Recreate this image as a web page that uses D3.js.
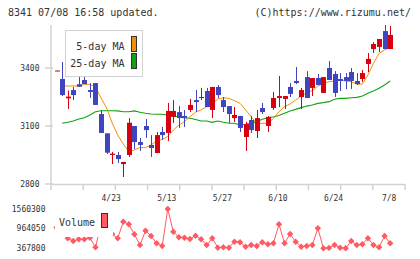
<!DOCTYPE html>
<html>
<head>
<meta charset="utf-8">
<script src="https://cdn.jsdelivr.net/npm/d3@7"></script>
<style>
  body { margin: 0; background: #fff; }
  svg { display: block; font-family: "DejaVu Sans Mono", monospace; }
</style>
</head>
<body>
<div id="chart"></div>
<script>
// daily candles, oldest first
const open  = [3385,3343,3243,3286,3316,3338,3286,3322,3162,3062,2950,2950,2903,2950,3100,3017,3100,3002,2960,3069,3064,3147,3172,3152,3183,3234,3245,3281,3183,3302,3234,3203,3141,3152,3043,3131,3074,3193,3100,3193,3245,3240,3302,3333,3250,3353,3297,3348,3271,3400,3369,3343,3353,3379,3333,3343,3421,3498,3509,3591,3498];
const high  = [3387,3431,3283,3303,3359,3376,3322,3322,3183,3062,2966,2966,2914,3141,3100,3038,3136,3053,3069,3095,3219,3234,3203,3183,3240,3286,3297,3297,3302,3312,3250,3203,3198,3152,3121,3152,3183,3219,3152,3276,3359,3255,3322,3405,3297,3384,3348,3369,3353,3436,3384,3374,3374,3400,3374,3390,3478,3534,3550,3622,3617];
const low   = [3385,3255,3188,3234,3302,3317,3245,3209,3064,2955,2903,2909,2836,2940,2981,2971,3038,2940,2960,3028,3022,3116,3090,3095,3172,3172,3234,3198,3141,3245,3172,3116,3121,3069,2971,3064,3038,3162,3069,3183,3198,3188,3250,3317,3188,3245,3255,3312,3271,3338,3250,3281,3291,3291,3312,3328,3379,3478,3483,3498,3498];
const close = [3387,3260,3252,3260,3303,3317,3276,3209,3064,2962,2957,2929,2914,3117,3017,3002,3079,2986,3053,3053,3178,3178,3141,3141,3209,3224,3250,3198,3302,3260,3198,3162,3157,3090,3110,3079,3141,3172,3147,3245,3255,3255,3266,3322,3286,3245,3348,3312,3353,3338,3271,3333,3333,3333,3317,3374,3447,3524,3550,3498,3571];
const ma5   = [null,3307,3307,3307,3307,3315,3315,3302,3245,3193,3116,3053,3007,2967,2976,2988,2988,3002,3022,3030,3046,3079,3105,3122,3148,3172,3183,3200,3214,3240,3246,3243,3231,3217,3183,3148,3114,3114,3114,3139,3174,3200,3214,3234,3255,3272,3283,3307,3321,3329,3333,3338,3333,3329,3317,3317,3364,3424,3476,3493,3509];
const ma25  = [null,3114,3119,3126,3136,3143,3157,3174,3179,3179,3179,3178,3174,3174,3178,3171,3166,3162,3161,3161,3157,3152,3148,3143,3140,3134,3126,3126,3119,3126,3119,3114,3114,3105,3109,3114,3122,3135,3143,3148,3154,3166,3178,3186,3195,3203,3209,3217,3221,3226,3238,3243,3243,3246,3248,3255,3269,3281,3295,3312,3333];
const volume = [1000000,850000,671000,589000,641000,641000,689000,398000,1100000,950000,800000,671000,1175000,1096000,793000,468000,902000,741000,520000,438000,1560300,871000,702000,689000,650000,750000,641000,468000,671000,386000,398000,386000,568000,550000,416000,468000,438000,550000,489000,520000,1096000,520000,802000,568000,416000,438000,468000,975000,367800,380000,468000,386000,370000,589000,468000,489000,671000,468000,398000,741000,520000];

const tickIdx = [10,20,30,40,50,60];
const tickLabels = ['4/23','5/13','5/27','6/10','6/24','7/8'];
const priceTicks = [2800,3100,3400];
const volTicks = [367800,964050,1560300];

const W = 420, H = 259;
const RED = '#d7000f', BLUE = '#3f45bf', ORANGE = '#f0900a', GREEN = '#12a312', VOL = '#ff5a62', AX = '#d2d2d2';

const svg = d3.select('#chart').append('svg').attr('width', W).attr('height', H);
svg.append('rect').attr('width', W).attr('height', H).attr('fill', '#fff');

const x = d3.scaleLinear().domain([-1, 62.67]).range([51, 405]);
const y = d3.scaleLinear().domain([2800, 3400]).range([184, 68]);
const yTop = 25;
const yv = d3.scaleLinear().domain([367800, 1560300]).range([248.3, 209]);

// header
svg.append('text').attr('x', 8).attr('y', 16).attr('font-size', 10).attr('fill', '#333')
  .text('8341 07/08 16:58 updated.');
svg.append('text').attr('x', 411).attr('y', 16).attr('font-size', 10).attr('fill', '#333')
  .attr('text-anchor', 'end').text('(C)https://www.rizumu.net/');

// axes
svg.append('line').attr('x1', 51).attr('x2', 51).attr('y1', yTop).attr('y2', 184)
  .attr('stroke', AX).attr('stroke-width', 1.5);
svg.append('line').attr('x1', 51).attr('x2', 405).attr('y1', 184.5).attr('y2', 184.5)
  .attr('stroke', AX).attr('stroke-width', 1.5);
d3.range(12).forEach(k => {
  const px = 51 + k * 354 / 11;
  svg.append('line').attr('x1', px).attr('x2', px).attr('y1', 184).attr('y2', 190)
    .attr('stroke', AX).attr('stroke-width', 1.5);
});
priceTicks.forEach(v => {
  svg.append('line').attr('x1', 45).attr('x2', 53).attr('y1', y(v)).attr('y2', y(v))
    .attr('stroke', AX).attr('stroke-width', 1.5);
  svg.append('text').attr('x', 39.5).attr('y', y(v)).attr('dy', '0.35em')
    .attr('text-anchor', 'end').attr('font-size', 8).attr('fill', '#333').text(v);
});
tickIdx.forEach((t, k) => {
  svg.append('text').attr('x', x(t) - 1).attr('y', 201).attr('text-anchor', 'middle')
    .attr('font-size', 8).attr('fill', '#333').text(tickLabels[k]);
});

// moving averages
const line = d3.line().defined(d => d != null).x((d, i) => x(i)).y(d => y(d));
svg.append('path').datum(ma25).attr('d', line.x((d, i) => x(i)))
  .attr('fill', 'none').attr('stroke', GREEN).attr('stroke-width', 1.1);
svg.append('path').datum(ma5).attr('d', line)
  .attr('fill', 'none').attr('stroke', ORANGE).attr('stroke-width', 1);

// candles
const g = svg.append('g');
open.forEach((o, i) => {
  const c = close[i];
  const col = c >= o ? RED : BLUE;
  const cx = Math.round(x(i)) + 0.5;
  g.append('line').attr('x1', cx).attr('x2', cx).attr('y1', y(high[i])).attr('y2', y(low[i]))
    .attr('stroke', col).attr('stroke-width', 1);
  const top = y(Math.max(o, c)), bot = y(Math.min(o, c));
  g.append('rect').attr('x', cx - 2.5).attr('width', 5)
    .attr('y', top).attr('height', Math.max(1, bot - top)).attr('fill', col);
});

// price legend
svg.append('rect').attr('x', 65.5).attr('y', 30.5).attr('width', 77).attr('height', 46)
  .attr('fill', '#fff').attr('stroke', AX).attr('stroke-width', 1);
[['5-day MA', ORANGE, 50], ['25-day MA', GREEN, 67]].forEach(([t, col, by]) => {
  svg.append('text').attr('x', 124.5).attr('y', by).attr('text-anchor', 'end')
    .attr('font-size', 10).attr('fill', '#333').text(t);
  svg.append('rect').attr('x', 131.5).attr('y', by - 13.5).attr('width', 5).attr('height', 15)
    .attr('fill', col).attr('stroke', '#333').attr('stroke-width', 1);
});

// volume panel
const vline = d3.line().x((d, i) => x(i)).y(d => yv(d));
svg.append('path').datum(volume).attr('d', vline)
  .attr('fill', 'none').attr('stroke', VOL).attr('stroke-width', 1);
const diamond = d3.symbol(d3.symbolDiamond2, 26);
svg.append('g').selectAll('path').data(volume).join('path')
  .attr('d', diamond).attr('transform', (d, i) => `translate(${x(i)},${yv(d)})`)
  .attr('fill', VOL);
volTicks.forEach(v => {
  svg.append('text').attr('x', 45.5).attr('y', yv(v)).attr('dy', '0.35em')
    .attr('text-anchor', 'end').attr('font-size', 8).attr('fill', '#333').text(v);
});
svg.append('rect').attr('x', 55).attr('y', 205).attr('width', 58).attr('height', 32).attr('fill', '#fff');
svg.append('text').attr('x', 59).attr('y', 226).attr('font-size', 10).attr('fill', '#333').text('Volume');
svg.append('rect').attr('x', 101.5).attr('y', 213.5).attr('width', 6).attr('height', 14)
  .attr('fill', VOL).attr('stroke', '#333').attr('stroke-width', 1);
</script>
</body>
</html>
